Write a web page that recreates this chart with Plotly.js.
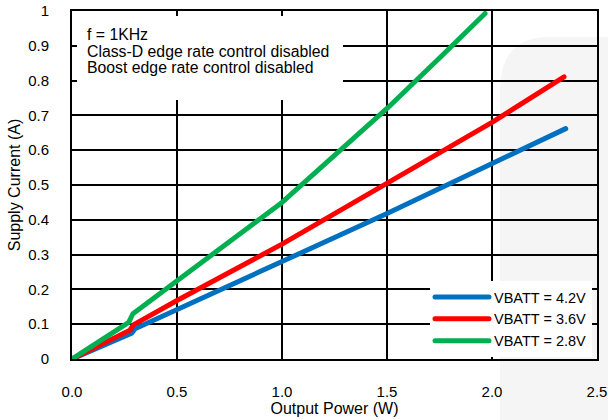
<!DOCTYPE html>
<html>
<head>
<meta charset="utf-8">
<script src="https://cdn.plot.ly/plotly-3.0.1.min.js"></script>
<style>
html,body{margin:0;padding:0;background:#fff;}
#chart{width:608px;height:420px;}
#chart .scatterlayer path.js-line, #chart .legendlines path{stroke-linecap:round !important;stroke-linejoin:round !important;}
</style>
</head>
<body>
<div id="chart"></div>
<script>
// Output Power (W) / Supply Current (A)
const seriesNames = ["VBATT = 4.2V", "VBATT = 3.6V", "VBATT = 2.8V"];
const x42 = [0, 0.284, 0.300, 0.5, 1.0, 1.5, 2.0, 2.351];
const y42 = [0, 0.074, 0.087, 0.143, 0.280, 0.418, 0.560, 0.662];
const x36 = [0, 0.276, 0.292, 0.5, 1.0, 1.5, 2.0, 2.343];
const y36 = [0, 0.083, 0.098, 0.168, 0.330, 0.503, 0.680, 0.811];
const x28 = [0, 0.270, 0.290, 0.5, 0.75, 1.0, 1.25, 1.5, 1.75, 1.967];
const y28 = [0, 0.105, 0.130, 0.225, 0.335, 0.450, 0.585, 0.720, 0.865, 0.993];
const seriesColors = ["#0070C0", "#FF0000", "#00B050"];
const noteLines = ["f = 1KHz", "Class-D edge rate control disabled", "Boost edge rate control disabled"];
const xTickVals = [0, 0.5, 1.0, 1.5, 2.0, 2.5];
const xTickText = ["0.0", "0.5", "1.0", "1.5", "2.0", "2.5"];
const yTickVals = [0, 0.1, 0.2, 0.3, 0.4, 0.5, 0.6, 0.7, 0.8, 0.9, 1];
const yTickText = ["0", "0.1", "0.2", "0.3", "0.4", "0.5", "0.6", "0.7", "0.8", "0.9", "1"];

const xs = [x42, x36, x28];
const ys = [y42, y36, y28];
const traces = seriesNames.map((n, i) => ({
  type: "scatter", mode: "lines", name: n,
  x: xs[i], y: ys[i],
  line: {color: seriesColors[i], width: 5}
}));

// plot area in pixels: left 72, right 597, top 11, bottom 359
const PX = X => (X - 72) / 525;
const PY = Y => (359 - Y) / 348;

const font = "Liberation Sans, Arial, sans-serif";
const noteY = [34.5, 51.5, 67.5];
const annotations = noteLines.map((t, i) => ({
  xref: "paper", yref: "paper",
  x: PX(85), y: PY(noteY[i]),
  xanchor: "left", yanchor: "middle",
  text: t, showarrow: false,
  font: {family: font, size: 15.8, color: "#000"}
}));

const wm = "#f5f5f5";
const layout = {
  width: 608, height: 420,
  margin: {l: 72, r: 11, t: 11, b: 61},
  paper_bgcolor: "#fff", plot_bgcolor: "#fff",
  font: {family: font, size: 15, color: "#000"},
  showlegend: true,
  legend: {
    x: PX(592), y: PY(357),
    xanchor: "right", yanchor: "bottom",
    bgcolor: "#fff", borderwidth: 0,
    font: {family: font, size: 14.5, color: "#000"},
    itemwidth: 54, tracegroupgap: 0
  },
  xaxis: {
    range: [0, 2.5], tickvals: xTickVals, ticktext: xTickText,
    showgrid: true, gridcolor: "#000", gridwidth: 2,
    showline: true, linecolor: "#000", linewidth: 2, mirror: "ticks",
    ticks: "inside", ticklen: 4, tickwidth: 1.5, tickcolor: "#000",
    zeroline: false, ticklabelstandoff: 18,
    title: {text: "Output Power (W)", font: {family: font, size: 16}, standoff: 2}
  },
  yaxis: {
    range: [0, 1], tickvals: yTickVals, ticktext: yTickText,
    showgrid: true, gridcolor: "#000", gridwidth: 2,
    showline: true, linecolor: "#000", linewidth: 2, mirror: "ticks",
    ticks: "inside", ticklen: 4, tickwidth: 1.5, tickcolor: "#000",
    zeroline: false, ticklabelstandoff: 18,
    title: {text: "Supply Current (A)", font: {family: font, size: 16}, standoff: 4}
  },
  shapes: [
    {
      type: "path", xref: "paper", yref: "paper", layer: "below",
      path: `M ${PX(608)},${PY(37)} L ${PX(545)},${PY(37)} Q ${PX(500)},${PY(40)} ${PX(500)},${PY(90)} L ${PX(500)},${PY(420)} L ${PX(608)},${PY(420)} Z`,
      fillcolor: wm, line: {width: 0}
    },
    {
      type: "rect", xref: "paper", yref: "paper", layer: "above",
      x0: PX(77), x1: PX(343), y0: PY(100), y1: PY(16),
      fillcolor: "#fff", line: {width: 0}
    }
  ],
  annotations: annotations
};

Plotly.newPlot("chart", traces, layout, {displayModeBar: false, staticPlot: true});
</script>
</body>
</html>
